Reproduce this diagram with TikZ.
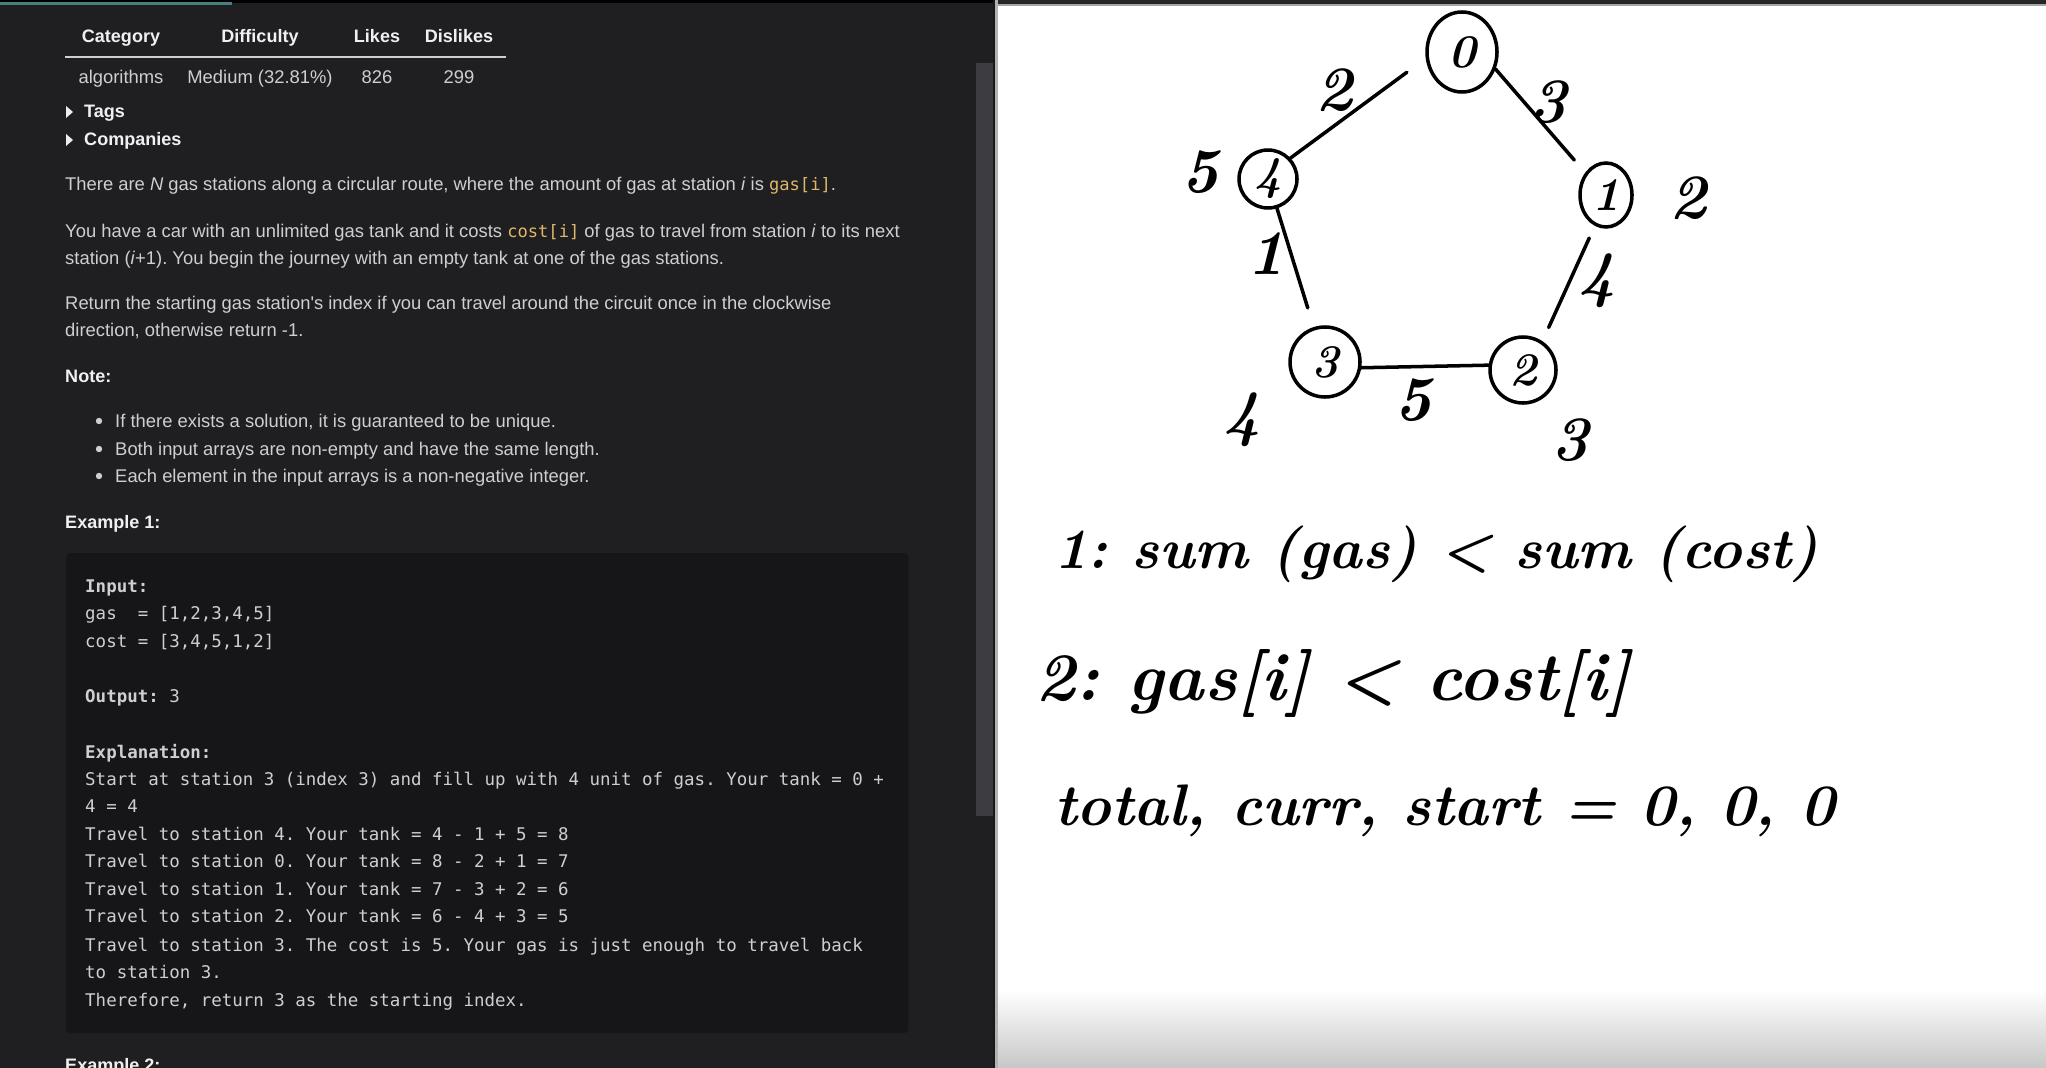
\documentclass[tikz,border=0pt]{standalone}
\usepackage{fontspec}
\newfontfamily\uifont{Liberation Sans}
\setmonofont{DejaVu Sans Mono}
\usetikzlibrary{shapes.geometric}
\definecolor{panelbg}{HTML}{1F1F22}
\definecolor{codebg}{HTML}{161619}
\definecolor{bodytext}{HTML}{CFCFCF}
\definecolor{inlinecode}{HTML}{E0B66A}
\definecolor{scrollbar}{HTML}{3D3D41}
\newcommand\ic[1]{{\ttfamily\fontsize{14.6}{17}\selectfont\color{inlinecode}#1}}
\tikzset{ui/.style={anchor=base west,inner sep=0pt,text=bodytext,
  font=\uifont\fontsize{15.7}{18}\selectfont},
 uibold/.style={ui,text=white!88!gray,font=\uifont\bfseries\fontsize{15.4}{18}\selectfont},
 codetext/.style={anchor=base west,inner sep=0pt,text=bodytext,
  font=\ttfamily\fontsize{14.9}{18}\selectfont},
 codebold/.style={codetext,font=\ttfamily\bfseries\fontsize{14.9}{18}\selectfont},
 station/.style={ellipse,draw,line width=3pt,inner sep=0pt,
  font=\bfseries\itshape\fontsize{40}{40}\selectfont},
 road/.style={line width=3pt,line cap=round},
 costlabel/.style={inner sep=0pt,font=\bfseries\itshape\fontsize{54}{54}\selectfont},
 scribble/.style={anchor=base west,inner sep=0pt,font=\bfseries\itshape\fontsize{#1}{#1}\selectfont}}
\frenchspacing
\begin{document}
\begin{tikzpicture}[x=0.03cm,y=-0.03cm]
\clip (0,0) rectangle (2046,1068);
% left panel
\fill[panelbg] (0,0) rectangle (995,1068);
\fill[black] (0,0) rectangle (995,3);
\fill[teal!45!gray] (0,2) rectangle (232,5);
\fill[scrollbar] (976,63) rectangle (993,816);
\fill[black!90] (993,0) rectangle (995,1068);
% table
\foreach \xpos/\head/\cell in {121/Category/algorithms,260/Difficulty/{Medium (32.81\%)},
 377/Likes/826,459/Dislikes/299} {
\node[uibold,anchor=base] (head\xpos) at (\xpos,43) {\head};
\node[ui,anchor=base] (cell\xpos) at (\xpos,84) {\cell};
}
\draw[bodytext,line width=1.2pt] (65,57) -- (506,57);
\foreach \ypos/\fold in {112/Tags,140/Companies} {
\fill[white!85!gray] (66,\ypos-6) -- (73,\ypos) -- (66,\ypos+6) -- cycle;
\node[uibold] (fold\ypos) at (84,\ypos+6) {\fold};
}
% statement
\node[ui] (para1) at (65,191) {There are \textit{N} gas stations along a circular route, where the amount of gas at station \textit{i} is \ic{gas[i]}.};
\node[ui] (para2a) at (65,237) {You have a car with an unlimited gas tank and it costs \ic{cost[i]} of gas to travel from station \textit{i} to its next};
\node[ui] (para2b) at (65,264) {station (\textit{i}+1). You begin the journey with an empty tank at one of the gas stations.};
\node[ui] (para3a) at (65,309) {Return the starting gas station's index if you can travel around the circuit once in the clockwise};
\node[ui] (para3b) at (65,336) {direction, otherwise return -1.};
\node[uibold] (note) at (65,382) {Note:};
\foreach \ypos/\item in {421/{If there exists a solution, it is guaranteed to be unique.},
 449/{Both input arrays are non-empty and have the same length.},
 476/{Each element in the input arrays is a non-negative integer.}} {
\fill[bodytext] (99,\ypos) circle (3.2);
\node[ui] (item\ypos) at (115,\ypos+6) {\item};
}
\node[uibold] (example1) at (65,528) {Example 1:};
% code block
\fill[codebg,rounded corners=3] (66,553) rectangle (908,1033);
\node[codebold] (input) at (85,592) {Input:};
\node[codetext] (output) at (85,702) {\textbf{Output:} 3};
\node[codebold] (explain) at (85,758) {Explanation:};
\foreach \ypos/\linetext in {619/{gas\ \ = [1,2,3,4,5]},647/{cost = [3,4,5,1,2]},
 785/{Start at station 3 (index 3) and fill up with 4 unit of gas. Your tank = 0 +},
 812/{4 = 4},
 840/{Travel to station 4. Your tank = 4 - 1 + 5 = 8},
 867/{Travel to station 0. Your tank = 8 - 2 + 1 = 7},
 895/{Travel to station 1. Your tank = 7 - 3 + 2 = 6},
 922/{Travel to station 2. Your tank = 6 - 4 + 3 = 5},
 951/{Travel to station 3. The cost is 5. Your gas is just enough to travel back},
 978/{to station 3.},
 1006/{Therefore, return 3 as the starting index.}} {
\node[codetext] (code\ypos) at (85,\ypos) {\linetext};
}
\node[uibold] (example2) at (65,1071) {Example 2:};
% whiteboard
\fill[white] (995,0) rectangle (2046,1068);
\shade[top color=white,bottom color=black!22] (995,990) rectangle (2046,1068);
\fill[black!85] (995,0) rectangle (2046,4);
\fill[black!35] (995,4) rectangle (2046,6);
\fill[black!30] (995,0) rectangle (998,1068);
\node[station,minimum width=2.1cm,minimum height=2.4cm] (n0) at (1462,52) {0};
\node[station,minimum width=1.56cm,minimum height=1.92cm] (n1) at (1606,195) {1};
\node[station,minimum width=1.98cm,minimum height=1.98cm] (n2) at (1523,370) {2};
\node[station,minimum width=2.1cm,minimum height=2.1cm] (n3) at (1325,362) {3};
\node[station,minimum width=1.74cm,minimum height=1.74cm] (n4) at (1268,179) {4};
\draw[road,shorten >=0.7cm] (n4.43) -- (n0.190);
\draw[road,shorten >=0.5cm] (n0.333) -- (n1.133);
\draw[road,shorten <=0.4cm,shorten >=0.45cm] (n1.250) -- (n2.56);
\draw[road] (n2.172) -- (n3.351);
\draw[road,shorten <=0.6cm] (n3.108) -- (n4.287);
% costs on the roads, gas beside the stations
\node[costlabel] (cost0) at (1334,90) {2};
\node[costlabel] (cost1) at (1548,102) {3};
\node[costlabel] (cost2) at (1597,281) {4};
\node[costlabel] (cost3) at (1413,400) {5};
\node[costlabel] (cost4) at (1266,254) {1};
\node[costlabel] (gas4) at (1200,172) {5};
\node[costlabel] (gas1) at (1688,198) {2};
\node[costlabel] (gas2) at (1570,440) {3};
\node[costlabel] (gas3) at (1242,420) {4};
\node[scribble=48.5] (rule1) at (1054,568) {1: sum (gas) < sum (cost)};
\node[scribble=58] (rule2) at (1035,700) {2: gas[i] < cost[i]};
\node[scribble=50] (init) at (1054,825) {total, curr, start = 0, 0, 0};
\end{tikzpicture}
\end{document}
